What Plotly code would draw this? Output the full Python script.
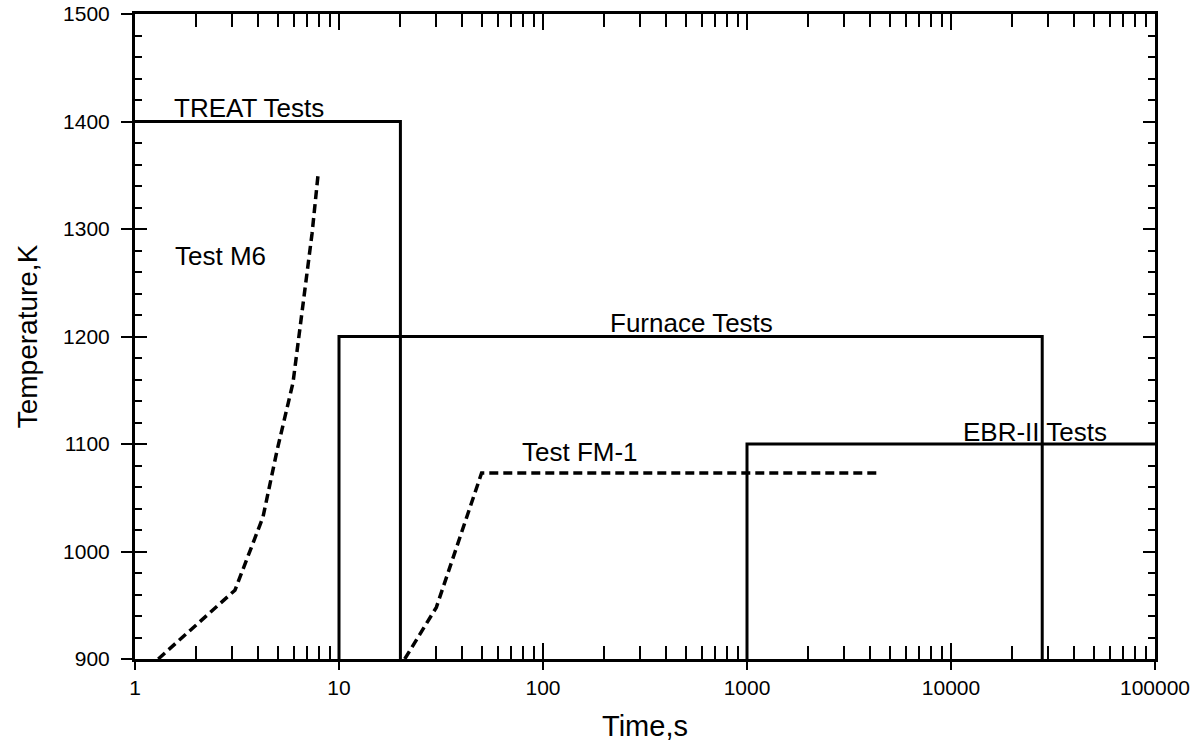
import plotly.graph_objects as go

# Test envelopes (time in s, temperature in K)
treat_t = [1, 20, 20]
treat_T = [1400, 1400, 900]

furnace_t = [10, 10, 28000, 28000]
furnace_T = [900, 1200, 1200, 900]

ebr_t = [1000, 1000, 100000]
ebr_T = [900, 1100, 1100]

# Measured transients
m6_t = [1.30, 3.09, 4.24, 4.97, 5.95, 6.67, 7.38, 7.89]
m6_T = [900, 964, 1032, 1094, 1157, 1234, 1296, 1350]

fm1_t = [21, 30, 50, 4400]
fm1_T = [900, 948, 1073, 1073]

# Curve labels: (text, log10 time of left edge, temperature)
labels = [
    ("TREAT Tests", 0.181, 1413),
    ("Test M6", 0.186, 1275),
    ("Furnace Tests", 2.319, 1213),
    ("Test FM-1", 1.887, 1093),
    ("EBR-II Tests", 4.050, 1111),
]

FONT = "Liberation Sans, Arial, Helvetica, sans-serif"
solid = dict(color="black", width=3)
dashed = dict(color="black", width=3.5, dash="9px,5px")

fig = go.Figure()
for t, T in [(treat_t, treat_T), (furnace_t, furnace_T), (ebr_t, ebr_T)]:
    fig.add_trace(go.Scatter(x=t, y=T, mode="lines", line=solid,
                             showlegend=False, hoverinfo="skip"))
for t, T in [(m6_t, m6_T), (fm1_t, fm1_T)]:
    fig.add_trace(go.Scatter(x=t, y=T, mode="lines", line=dashed,
                             showlegend=False, hoverinfo="skip"))

# invisible trace so the overlay axes are drawn
fig.add_trace(go.Scatter(x=[1, 100000], y=[900, 1500], xaxis="x2", yaxis="y2",
                         mode="markers", marker=dict(opacity=0), showlegend=False,
                         hoverinfo="skip"))

for text, lx, ty in labels:
    fig.add_annotation(x=lx, y=ty, xref="x", yref="y", text=text,
                       showarrow=False, xanchor="left", yanchor="middle",
                       font=dict(family=FONT, size=26, color="black"))

xrange_log = [0, 5]
yrange = [900, 1500]

fig.update_layout(
    width=1198, height=744,
    margin=dict(l=135, r=43, t=14, b=85),
    paper_bgcolor="white", plot_bgcolor="white",
    font=dict(family=FONT, color="black"),
    # outward stubs on the decades, with labels and title
    xaxis=dict(
        type="log", range=xrange_log, tickmode="linear", tick0=0, dtick=1,
        tickformat="d", automargin=False,
        ticks="outside", ticklen=8, tickwidth=2, tickcolor="black",
        tickfont=dict(family=FONT, size=21, color="black"),
        showgrid=False, zeroline=False,
        showline=True, linecolor="black", linewidth=3, mirror=True,
        title=dict(text="Time,s", font=dict(family=FONT, size=29, color="black"),
                   standoff=18),
    ),
    # inward ticks with minor ticks, mirrored on top
    xaxis2=dict(
        type="log", range=xrange_log, overlaying="x", side="bottom",
        tickmode="linear", tick0=0, dtick=1, automargin=False,
        ticks="inside", ticklen=16, tickwidth=2, tickcolor="black",
        minor=dict(ticks="inside", ticklen=13, tickwidth=2, tickcolor="black",
                   dtick="D1", showgrid=False),
        showticklabels=False, showgrid=False, zeroline=False,
        showline=False, mirror="allticks",
    ),
    yaxis=dict(
        range=yrange, tickmode="linear", tick0=900, dtick=100, automargin=False,
        ticks="outside", ticklen=11, tickwidth=2, tickcolor="black",
        ticklabelstandoff=7,
        tickfont=dict(family=FONT, size=21, color="black"),
        showgrid=False, zeroline=False,
        showline=True, linecolor="black", linewidth=3, mirror=True,
        title=dict(text="Temperature,K", font=dict(family=FONT, size=28, color="black"),
                   standoff=18),
    ),
    yaxis2=dict(
        range=yrange, overlaying="y", side="left", automargin=False,
        tickmode="linear", tick0=900, dtick=100,
        ticks="inside", ticklen=12, tickwidth=2, tickcolor="black",
        minor=dict(ticks="inside", ticklen=7, tickwidth=2, tickcolor="black",
                   dtick=20, showgrid=False),
        showticklabels=False, showgrid=False, zeroline=False,
        showline=False, mirror="allticks",
    ),
)

fig.write_html("out.html")
